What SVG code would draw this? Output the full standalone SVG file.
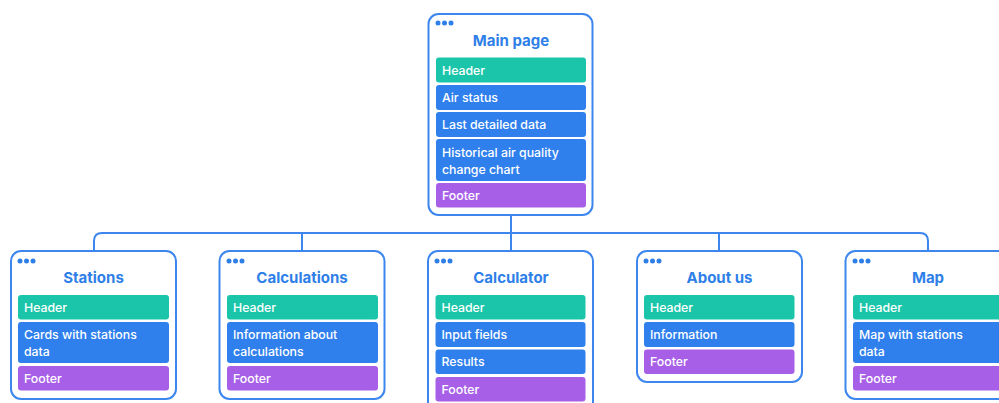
<svg xmlns="http://www.w3.org/2000/svg" width="999" height="403" viewBox="0 0 999 403">
<style>
.card{fill:#fff;stroke:#3D86EE;stroke-width:2}
.dot{fill:#2F7FE8}
.title{font-family:Inter,"Liberation Sans",sans-serif;font-weight:700;font-size:15px;fill:#2F7FE8;text-anchor:middle}
.t{font-family:Inter,"Liberation Sans",sans-serif;font-weight:500;font-size:12.3px;fill:#fff}
.g{fill:#1BC5A9}
.b{fill:#2F80ED}
.p{fill:#A85FE8}
.conn{fill:none;stroke:#3D86EE;stroke-width:2}
</style>
<rect width="999" height="403" fill="#fff"/>
<g id="connectors">
<path class="conn" d="M511 215V233"/>
<path class="conn" d="M94 251V241Q94 233 102 233H920Q928 233 928 241V251"/>
<path class="conn" d="M302 233V251M511 233V251M719 233V251"/>
</g>
<g id="main">
<rect class="card" x="428.5" y="14" width="164" height="201" rx="10"/>
<circle class="dot" cx="438" cy="23" r="2.5"/><circle class="dot" cx="444.5" cy="23" r="2.5"/><circle class="dot" cx="451" cy="23" r="2.5"/>
<text class="title" x="511" y="46">Main page</text>
<rect class="g" x="436" y="57.5" width="150" height="25" rx="3"/><text class="t" x="442" y="74.5">Header</text>
<rect class="b" x="436" y="85" width="150" height="25" rx="3"/><text class="t" x="442" y="102">Air status</text>
<rect class="b" x="436" y="112" width="150" height="25" rx="3"/><text class="t" x="442" y="129">Last detailed data</text>
<rect class="b" x="436" y="139" width="150" height="42" rx="3"/><text class="t" x="442" y="156.5">Historical air quality</text><text class="t" x="442" y="173.5">change chart</text>
<rect class="p" x="436" y="183" width="150" height="24.5" rx="3"/><text class="t" x="442" y="199.5">Footer</text>
</g>
<g id="stations">
<rect class="card" x="11" y="251" width="165" height="148" rx="10"/>
<circle class="dot" cx="20" cy="261" r="2.5"/><circle class="dot" cx="26.5" cy="261" r="2.5"/><circle class="dot" cx="33" cy="261" r="2.5"/>
<text class="title" x="93.5" y="283">Stations</text>
<rect class="g" x="18" y="295" width="151" height="24.5" rx="3"/><text class="t" x="24" y="312">Header</text>
<rect class="b" x="18" y="322" width="151" height="41" rx="3"/><text class="t" x="24" y="339">Cards with stations</text><text class="t" x="24" y="356">data</text>
<rect class="p" x="18" y="366" width="151" height="24.5" rx="3"/><text class="t" x="24" y="383">Footer</text>
</g>
<g id="calculations">
<rect class="card" x="219.5" y="251" width="165" height="148" rx="10"/>
<circle class="dot" cx="229" cy="261" r="2.5"/><circle class="dot" cx="235.5" cy="261" r="2.5"/><circle class="dot" cx="242" cy="261" r="2.5"/>
<text class="title" x="302" y="283">Calculations</text>
<rect class="g" x="227" y="295" width="151" height="24.5" rx="3"/><text class="t" x="233" y="312">Header</text>
<rect class="b" x="227" y="322" width="151" height="41" rx="3"/><text class="t" x="233" y="339">Information about</text><text class="t" x="233" y="356">calculations</text>
<rect class="p" x="227" y="366" width="151" height="24.5" rx="3"/><text class="t" x="233" y="383">Footer</text>
</g>
<g id="calculator">
<rect class="card" x="428" y="251" width="165" height="165" rx="10"/>
<circle class="dot" cx="437" cy="261" r="2.5"/><circle class="dot" cx="443.5" cy="261" r="2.5"/><circle class="dot" cx="450" cy="261" r="2.5"/>
<text class="title" x="511" y="283">Calculator</text>
<rect class="g" x="435.5" y="295" width="150" height="24.5" rx="3"/><text class="t" x="441.5" y="312">Header</text>
<rect class="b" x="435.5" y="322" width="150" height="25" rx="3"/><text class="t" x="441.5" y="339">Input fields</text>
<rect class="b" x="435.5" y="349.5" width="150" height="24.5" rx="3"/><text class="t" x="441.5" y="366">Results</text>
<rect class="p" x="435.5" y="377" width="150" height="24.5" rx="3"/><text class="t" x="441.5" y="394">Footer</text>
</g>
<g id="about">
<rect class="card" x="637" y="251" width="165" height="131" rx="10"/>
<circle class="dot" cx="646" cy="261" r="2.5"/><circle class="dot" cx="652.5" cy="261" r="2.5"/><circle class="dot" cx="659" cy="261" r="2.5"/>
<text class="title" x="719.5" y="283">About us</text>
<rect class="g" x="644" y="295" width="150.5" height="24.5" rx="3"/><text class="t" x="650" y="312">Header</text>
<rect class="b" x="644" y="322" width="150.5" height="25" rx="3"/><text class="t" x="650" y="339">Information</text>
<rect class="p" x="644" y="349.5" width="150.5" height="24.5" rx="3"/><text class="t" x="650" y="366">Footer</text>
</g>
<g id="map">
<rect class="card" x="845.5" y="251" width="165" height="148" rx="10"/>
<circle class="dot" cx="855" cy="261" r="2.5"/><circle class="dot" cx="861.5" cy="261" r="2.5"/><circle class="dot" cx="868" cy="261" r="2.5"/>
<text class="title" x="928" y="283">Map</text>
<rect class="g" x="853" y="295" width="151" height="24.5" rx="3"/><text class="t" x="859" y="312">Header</text>
<rect class="b" x="853" y="322" width="151" height="41" rx="3"/><text class="t" x="859" y="339">Map with stations</text><text class="t" x="859" y="356">data</text>
<rect class="p" x="853" y="366" width="151" height="24.5" rx="3"/><text class="t" x="859" y="383">Footer</text>
</g>
</svg>
